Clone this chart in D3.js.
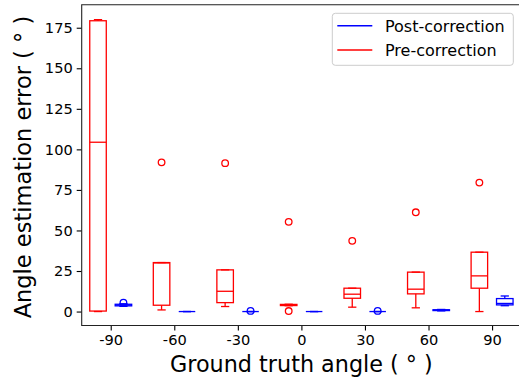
<!DOCTYPE html>
<html><head><meta charset="utf-8">
<script src="https://cdn.jsdelivr.net/npm/d3@7"></script>
<style>body{margin:0;background:#fff;overflow:hidden} text{font-family:"DejaVu Sans",sans-serif}</style>
</head><body><svg id="c" width="519" height="377"></svg>
<script>
// ---- data ----
const angles = [-90, -60, -30, 0, 30, 60, 90];
const xTickLabels = ["-90", "-60", "-30", "0", "30", "60", "90"];
const yTicks = [0, 25, 50, 75, 100, 125, 150, 175];
// [lowWhisker, q1, median, q3, highWhisker]
const preStats = [
  [0, 0.3, 104.4, 179.3, 180],
  [1.0, 3.9, 30.0, 30.2, 30.2],
  [3.1, 5.5, 12.5, 25.7, 25.7],
  [3.6, 3.7, 4.0, 4.4, 4.5],
  [2.7, 8.2, 10.7, 14.4, 14.4],
  [2.3, 10.9, 13.8, 24.3, 24.3],
  [0, 14.4, 22.0, 36.6, 36.6]
];
const preOutliers = [[], [92], [91.5], [55.3, 0.3], [43.6], [61.2], [79.5]];
const postStats = [
  [3.2, 3.5, 4.0, 4.5, 4.8],
  [0, 0, 0, 0, 0],
  [0, 0, 0, 0, 0],
  [0, 0, 0, 0, 0],
  [0, 0, 0, 0, 0],
  [0.4, 0.6, 0.9, 1.1, 1.3],
  [3.6, 4.1, 5.0, 8.0, 9.6]
];
const postOutliers = [[5.5], [], [0.4], [], [0.4], [], []];
const seriesNames = ["Post-correction", "Pre-correction"];
const seriesColors = ["#0000ff", "#ff0000"];

// ---- layout ----
const svg = d3.select("#c");
const L = 81.7, R = 521.1, T = 4.7, B = 325.5;
const x = d3.scaleLinear().domain([-103.7, 103.7]).range([L, R]);
const y = d3.scaleLinear().domain([-8.6, 189.2]).range([B, T]);
const offset = 6, boxW = 7.8;

function drawSeries(stats, outliers, color, sign) {
  const g = svg.append("g").attr("fill", "none").attr("stroke", color).attr("stroke-width", 1.3);
  stats.forEach((s, i) => {
    const c = angles[i] + sign * offset;
    const x0 = x(c - boxW / 2), x1 = x(c + boxW / 2);
    const cx = x(c), hw = (x1 - x0) / 4;
    const [lo, q1, med, q3, hi] = s;
    g.append("line").attr("x1", cx).attr("x2", cx).attr("y1", y(lo)).attr("y2", y(q1));
    g.append("line").attr("x1", cx).attr("x2", cx).attr("y1", y(q3)).attr("y2", y(hi));
    g.append("line").attr("x1", cx - hw).attr("x2", cx + hw).attr("y1", y(lo)).attr("y2", y(lo));
    g.append("line").attr("x1", cx - hw).attr("x2", cx + hw).attr("y1", y(hi)).attr("y2", y(hi));
    g.append("rect").attr("x", x0).attr("y", y(q3)).attr("width", x1 - x0)
      .attr("height", Math.max(0, y(q1) - y(q3)));
    g.append("line").attr("x1", x0).attr("x2", x1).attr("y1", y(med)).attr("y2", y(med));
    outliers[i].forEach(v => {
      g.append("circle").attr("cx", cx).attr("cy", y(v)).attr("r", 3.3);
    });
  });
}
drawSeries(preStats, preOutliers, seriesColors[1], -1);
drawSeries(postStats, postOutliers, seriesColors[0], 1);

// ---- axes ----
const ax = svg.append("g").attr("transform", `translate(0,${B})`)
  .call(d3.axisBottom(x).tickValues(angles).tickFormat((d, i) => xTickLabels[i]).tickSize(5).tickPadding(4).tickSizeOuter(0));
const ay = svg.append("g").attr("transform", `translate(${L},0)`)
  .call(d3.axisLeft(y).tickValues(yTicks).tickSize(5).tickPadding(4).tickSizeOuter(0));
[ax, ay].forEach(a => {
  a.select(".domain").remove();
  a.selectAll(".tick line").attr("stroke", "#000").attr("stroke-width", 1.1);
  a.selectAll(".tick text").attr("font-size", "14.6px").attr("fill", "#000")
    .attr("font-family", '"DejaVu Sans", sans-serif');
});
svg.append("path").attr("d", `M${R},${T}H${L}V${B}H${R}`)
  .attr("fill", "none").attr("stroke", "#222").attr("stroke-width", 1.1);

// axis labels
svg.append("text").attr("x", (L + R) / 2).attr("y", 372).attr("text-anchor", "middle")
  .attr("font-size", "22.3px").attr("fill", "#000").text("Ground truth angle ( ° )");
svg.append("text").attr("transform", `translate(31,${(T + B) / 2 + 2}) rotate(-90)`)
  .attr("text-anchor", "middle").attr("font-size", "22.5px").attr("fill", "#000")
  .text("Angle estimation error ( ° )");

// legend
const lg = svg.append("g");
lg.append("rect").attr("x", 332.3).attr("y", 13.3).attr("width", 181).attr("height", 52)
  .attr("rx", 3).attr("fill", "#fff").attr("fill-opacity", 0.8).attr("stroke", "#cccccc").attr("stroke-width", 1);
seriesNames.forEach((n, i) => {
  const ly = 25.7 + i * 24.3;
  lg.append("line").attr("x1", 337.3).attr("x2", 372.3).attr("y1", ly).attr("y2", ly)
    .attr("stroke", seriesColors[i]).attr("stroke-width", 1.5);
  lg.append("text").attr("x", 385).attr("y", ly + 6).attr("font-size", "16px").attr("fill", "#000").text(n);
});
</script></body></html>
